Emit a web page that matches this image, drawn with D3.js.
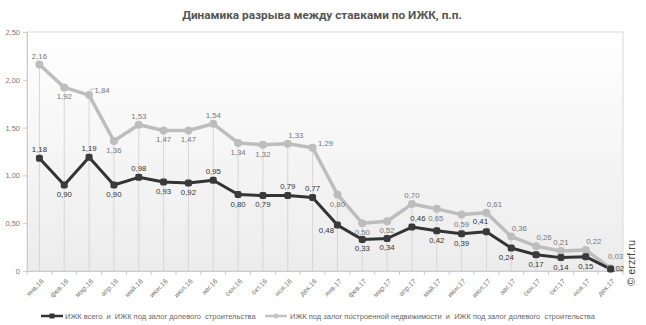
<!DOCTYPE html>
<html><head><meta charset="utf-8">
<script src="https://cdn.jsdelivr.net/npm/d3@7"></script>
<style>
html,body{margin:0;padding:0;background:#fff;}
svg{display:block;}
</style></head>
<body>
<svg id="chart" width="646" height="325"></svg>
<script>
const categories = ["янв.16","фев.16","мар.16","апр.16","май.16","июн.16","июл.16","авг.16","сен.16","окт.16","ноя.16","дек.16",
  "янв.17","фев.17","мар.17","апр.17","май.17","июн.17","июл.17","авг.17","сен.17","окт.17","ноя.17","дек.17"];
const seriesDark = [1.18,0.90,1.19,0.90,0.98,0.93,0.92,0.95,0.80,0.79,0.79,0.77,0.48,0.33,0.34,0.46,0.42,0.39,0.41,0.24,0.17,0.14,0.15,0.02];
const seriesLight = [2.16,1.92,1.84,1.36,1.53,1.47,1.47,1.54,1.34,1.32,1.33,1.29,0.80,0.50,0.52,0.70,0.65,0.59,0.61,0.36,0.26,0.21,0.22,0.03];
const yTicks = [0,0.5,1,1.5,2,2.5];
const seriesNames = ["ИЖК всего  и  ИЖК под залог долевого  строительства",
  "ИЖК под залог построенной недвижимости  и  ИЖК под залог долевого  строительства"];
const title = "Динамика разрыва между ставками по ИЖК, п.п.";

// label placement codes
const posLight = ["a","b","r","b","a","b","b","a","b","b","ar","r","b","b","b","a","bl2","b","ar","ar","ar","a","ar","ar2"];
const posDark  = ["a","b","a","b","a","b","b","a","b","b","a","a","l","b","b","ar3","b","b","al","bl","b","b","b","r2"];

const svg = d3.select("#chart");
const L = 27, R = 623, T = 32, B = 271;
const x = d3.scaleBand().domain(categories).range([L, R]);
const y = d3.scaleLinear().domain([0, 2.5]).range([B, T]);
const cx = c => x(c) + x.bandwidth()/2;
const fmt = v => v === 0 ? "0" : d3.format(".2f")(v).replace(".", ",");
const labelFont = "'Liberation Sans Narrow', 'Arial Narrow', Arial, sans-serif";

const defs = svg.append("defs");
const grad = defs.append("linearGradient").attr("id","bg").attr("x1",0).attr("y1",0).attr("x2",0).attr("y2",1);
grad.append("stop").attr("offset","0%").attr("stop-color","#ffffff");
grad.append("stop").attr("offset","100%").attr("stop-color","#ececec");

svg.append("rect").attr("x",L).attr("y",T).attr("width",R-L).attr("height",B-T)
  .attr("fill","url(#bg)").attr("stroke","#d9d9d9").attr("stroke-width",1);

// title
svg.append("text").attr("x",322).attr("y",19).attr("text-anchor","middle")
  .attr("font-family","Roboto, sans-serif").attr("font-weight","bold").attr("font-size",11.8)
  .attr("fill","#555").text(title);

// drop lines
svg.append("g").selectAll("line").data(categories).join("line")
  .attr("x1",d=>cx(d)).attr("x2",d=>cx(d))
  .attr("y1",(d,i)=>y(seriesLight[i])).attr("y2",B)
  .attr("stroke","#d6d6d6").attr("stroke-width",1);

// y axis
const yAxis = d3.axisLeft(y).tickValues(yTicks).tickFormat(fmt).tickSize(4).tickPadding(3);
const gy = svg.append("g").attr("transform",`translate(${L},0)`).call(yAxis);
gy.select(".domain").attr("stroke","#ccc");
gy.selectAll(".tick line").attr("stroke","#ccc");
gy.selectAll("text").attr("font-family","Arial, 'Liberation Sans', sans-serif").attr("font-size",7.5).attr("fill","#777");

// x axis
const xAxis = d3.axisBottom(x).tickSize(0).tickPadding(0);
const gx = svg.append("g").attr("transform",`translate(0,${B})`).call(xAxis);
gx.select(".domain").attr("stroke","#ccc");
gx.selectAll(".tick text").attr("font-family","Arial, 'Liberation Sans', sans-serif").attr("font-size",7).attr("fill","#777")
  .attr("text-anchor","end").attr("transform","translate(3,9) rotate(-45)").attr("dy","0.35em").attr("y",0);
// band boundary ticks
svg.append("g").selectAll("line").data(d3.range(categories.length+1)).join("line")
  .attr("x1",i=>L + i*x.bandwidth()).attr("x2",i=>L + i*x.bandwidth())
  .attr("y1",B).attr("y2",B+4).attr("stroke","#ccc");

// lines
const line = vals => d3.line().x((d,i)=>cx(categories[i])).y(d=>y(d))(vals);
svg.append("path").attr("d",line(seriesLight)).attr("fill","none").attr("stroke","#bdbdbd").attr("stroke-width",3.5).attr("stroke-linejoin","round");
svg.append("path").attr("d",line(seriesDark)).attr("fill","none").attr("stroke","#333").attr("stroke-width",3).attr("stroke-linejoin","round");

svg.append("g").selectAll("circle").data(seriesLight).join("circle")
  .attr("cx",(d,i)=>cx(categories[i])).attr("cy",d=>y(d)).attr("r",4).attr("fill","#bdbdbd");
svg.append("g").selectAll("rect").data(seriesDark).join("rect")
  .attr("x",(d,i)=>cx(categories[i])-3.5).attr("y",d=>y(d)-3.5).attr("width",7).attr("height",7).attr("rx",2)
  .attr("fill","#3a3a3a");

// leader for the 1,84 label
svg.append("path").attr("d",`M${cx(categories[2])+2},${y(seriesLight[2])-4} L${cx(categories[2])+2},${y(seriesLight[2])-6} L${cx(categories[2])+6},${y(seriesLight[2])-6}`)
  .attr("fill","none").attr("stroke","#bbb").attr("stroke-width",0.8);

// labels (all centred, offsets dx, dy)
const off = {
  a:[0,-6], b:[0,12], r:[13,-2], ar:[8,-6], ar2:[5,-9], ar3:[6,-6], r2:[6,2],
  al:[-6,-8], bl:[-5,12], bl2:[-1,12], l:[-11,8]
};
function labels(vals, pos, color){
  svg.append("g").selectAll("text").data(vals).join("text")
    .attr("x",(d,i)=>cx(categories[i]) + off[pos[i]][0])
    .attr("y",(d,i)=>y(d) + off[pos[i]][1])
    .attr("text-anchor","middle")
    .attr("font-family",labelFont).attr("font-size",7.8)
    .attr("fill",color).text(d=>fmt(d));
}
labels(seriesLight, posLight, "#777");
labels(seriesDark, posDark, "#333");

// legend
const lg = svg.append("g").attr("font-family","Arial, 'Liberation Sans', sans-serif").attr("font-size",7.5).attr("fill","#666");
lg.append("line").attr("x1",41).attr("x2",63).attr("y1",316).attr("y2",316).attr("stroke","#333").attr("stroke-width",2.5);
lg.append("rect").attr("x",49.5).attr("y",313.5).attr("width",5).attr("height",5).attr("fill","#333");
lg.append("text").attr("x",65).attr("y",318.5).style("white-space","pre").text(seriesNames[0]);
lg.append("line").attr("x1",265).attr("x2",287).attr("y1",316).attr("y2",316).attr("stroke","#c4c4c4").attr("stroke-width",2.5);
lg.append("circle").attr("cx",276).attr("cy",316).attr("r",2.5).attr("fill","#c4c4c4");
lg.append("text").attr("x",290).attr("y",318.5).style("white-space","pre").text(seriesNames[1]);

// copyright
svg.append("text").attr("transform","translate(635,286) rotate(-90)")
  .attr("font-family","Arial, 'Liberation Sans', sans-serif").attr("font-size",11).attr("fill","#444")
  .text("© erzrf.ru");
</script>
</body></html>
